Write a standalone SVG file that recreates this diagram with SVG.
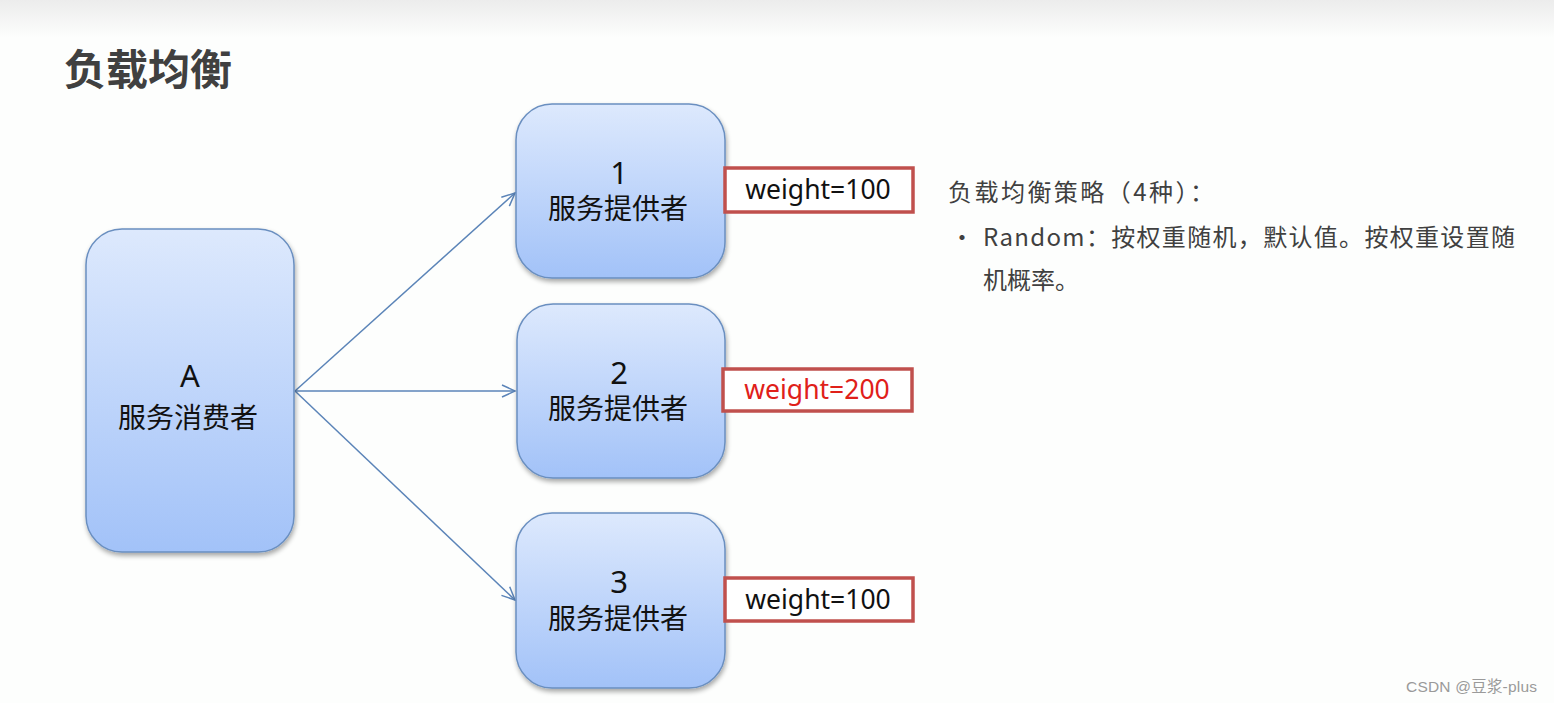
<svg xmlns="http://www.w3.org/2000/svg" width="1554" height="703" viewBox="0 0 1554 703">
<defs>
<linearGradient id="bg" x1="0" y1="0" x2="0" y2="1">
<stop offset="0" stop-color="#ececec"/>
<stop offset="1" stop-color="#fdfefd"/>
</linearGradient>
<linearGradient id="nodeFill" x1="0" y1="0" x2="0" y2="1">
<stop offset="0" stop-color="#dde9fd"/>
<stop offset="1" stop-color="#a2c2f8"/>
</linearGradient>
<filter id="shadow" x="-10%" y="-10%" width="130%" height="130%">
<feGaussianBlur in="SourceAlpha" stdDeviation="2.5"/>
<feOffset dx="1" dy="3"/>
<feComponentTransfer><feFuncA type="linear" slope="0.35"/></feComponentTransfer>
<feMerge><feMergeNode/><feMergeNode in="SourceGraphic"/></feMerge>
</filter>
<marker id="arrow" markerWidth="16" markerHeight="14" refX="14" refY="7" orient="auto" markerUnits="userSpaceOnUse">
<path d="M1,1 L14,7 L1,13" fill="none" stroke="#5b84b8" stroke-width="1.5"/>
</marker>
</defs>
<style>
.node rect{fill:url(#nodeFill);stroke:#6a8fc0;stroke-width:1.5;filter:url(#shadow)}
.lbl{font-family:"Noto Sans","Noto Sans CJK SC",sans-serif;fill:#111;text-anchor:middle}
.num{font-size:31px}
.cn{font-size:28px}
.wbox{fill:#fff;stroke:#c0504d;stroke-width:3.5}
.wt{font-family:"Noto Sans","Noto Sans CJK SC",sans-serif;font-size:26.5px;text-anchor:middle;fill:#111}
.conn line{stroke:#5b84b8;stroke-width:1.5;marker-end:url(#arrow)}
.side{font-family:"Noto Sans CJK SC","Noto Sans",sans-serif;font-size:24px;fill:#404040}
</style>
<rect x="0" y="0" width="1554" height="703" fill="#fdfefd"/>
<rect x="0" y="0" width="1554" height="38" fill="url(#bg)"/>
<text x="64" y="85" font-family="Noto Sans CJK SC, sans-serif" font-weight="bold" font-size="42" fill="#404040">负载均衡</text>

<g id="connectors" class="conn">
<line x1="295" y1="391" x2="515" y2="193"/>
<line x1="295" y1="391" x2="515" y2="391"/>
<line x1="295" y1="391" x2="515" y2="600"/>
</g>

<g id="nodeA" class="node">
<rect x="86" y="229" width="208" height="323" rx="36"/>
<text class="lbl num" x="190" y="387">A</text>
<text class="lbl cn" x="188" y="428">服务消费者</text>
</g>

<g id="node1" class="node">
<rect x="516" y="104" width="209" height="174" rx="36"/>
<text class="lbl num" x="619" y="184">1</text>
<text class="lbl cn" x="618" y="219">服务提供者</text>
</g>
<g id="weight1">
<rect class="wbox" x="725" y="168" width="188" height="44"/>
<text class="wt" x="818" y="199">weight=100</text>
</g>

<g id="node2" class="node">
<rect x="517" y="304" width="208" height="174" rx="36"/>
<text class="lbl num" x="619" y="384">2</text>
<text class="lbl cn" x="618" y="419">服务提供者</text>
</g>
<g id="weight2">
<rect class="wbox" x="723" y="369" width="189" height="42"/>
<text class="wt" x="817" y="399" style="fill:#e0201a">weight=200</text>
</g>

<g id="node3" class="node">
<rect x="516" y="513" width="209" height="175" rx="36"/>
<text class="lbl num" x="619" y="593">3</text>
<text class="lbl cn" x="618" y="629">服务提供者</text>
</g>
<g id="weight3">
<rect class="wbox" x="725" y="578" width="188" height="43"/>
<text class="wt" x="818" y="609">weight=100</text>
</g>

<g id="strategy">
<text class="side" x="948" y="201" textLength="266" lengthAdjust="spacing">负载均衡策略（4种）：</text>
<text class="side" x="950" y="246">•</text>
<text class="side" x="983" y="246" textLength="532" lengthAdjust="spacing">Random：按权重随机，默认值。按权重设置随</text>
<text class="side" x="983" y="289">机概率。</text>
</g>

<text x="1406" y="692" font-family="Liberation Sans, Noto Sans CJK SC, sans-serif" font-size="15.5" fill="#9a9a9a" textLength="131" lengthAdjust="spacing">CSDN @豆浆-plus</text>
</svg>
